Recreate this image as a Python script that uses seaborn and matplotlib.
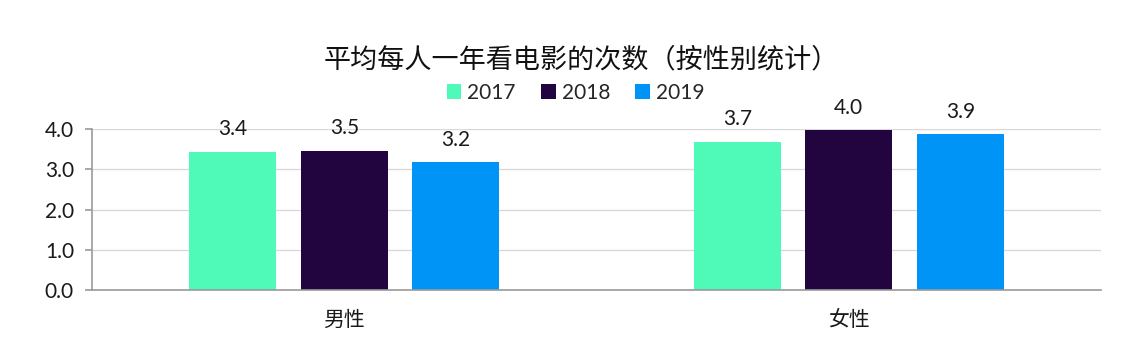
import pandas as pd
import matplotlib.pyplot as plt
import seaborn as sns

# 数据
genders = ['男性', '女性']
years = ['2017', '2018', '2019']
male_vals = [3.44, 3.46, 3.17]
female_vals = [3.68, 3.97, 3.87]
colors = ['#4FFAB8', '#22053F', '#0094F6']

df = pd.DataFrame({
    'gender': genders * 3,
    'year': [y for y in years for _ in genders],
    'value': [v for pair in zip(male_vals, female_vals) for v in pair],
})

sns.set_style('white')
plt.rcParams['font.family'] = ['Lato', 'Noto Sans CJK SC', 'DejaVu Sans']

fig = plt.figure(figsize=(11.33, 3.52), dpi=100)
ax = fig.add_axes([0.0812, 0.176, 0.8906, 0.4575])

sns.barplot(data=df, x='gender', y='value', hue='year', palette=colors,
            saturation=1, width=0.663, gap=0.22, linewidth=0, ax=ax, legend=True)

for c in ax.containers:
    ax.bar_label(c, fmt='%.1f', padding=9, fontsize=15, color='#1a1a1a')

ax.set_ylim(0, 4.0)
ax.set_xlim(-0.5, 1.5)
ax.set_yticks([0, 1, 2, 3, 4])
ax.set_yticklabels(['0.0', '1.0', '2.0', '3.0', '4.0'], fontsize=15, color='#1a1a1a')
ax.set_xticks([0, 1])
ax.set_xticklabels(genders, fontsize=15, color='#1a1a1a')
ax.set_xticks([-0.5, 0.5, 1.5], minor=True)
ax.tick_params(axis='x', which='major', length=0, pad=14)
ax.tick_params(axis='x', which='minor', length=6, color='#9a9a9a', width=1.2)
ax.tick_params(axis='y', length=5, color='#9a9a9a', width=1.2, pad=8, left=True)
ax.set_xlabel('')
ax.set_ylabel('')
ax.grid(axis='y', color='#d9d9d9', linewidth=1)
ax.set_axisbelow(True)

for s in ['top', 'right']:
    ax.spines[s].set_visible(False)
for s in ['left', 'bottom']:
    ax.spines[s].set_color('#9a9a9a')
    ax.spines[s].set_linewidth(1.2)

fig.text(0.513, 0.83, '平均每人一年看电影的次数（按性别统计）', ha='center', va='center',
         fontsize=19.5, color='#111111')
ax.legend(loc='center', bbox_to_anchor=(0.508, 0.736), bbox_transform=fig.transFigure,
          ncol=3, frameon=False, fontsize=15, handlelength=0.7, handleheight=0.7,
          handletextpad=0.3, columnspacing=1.2)

plt.savefig('out.png', dpi=100)
